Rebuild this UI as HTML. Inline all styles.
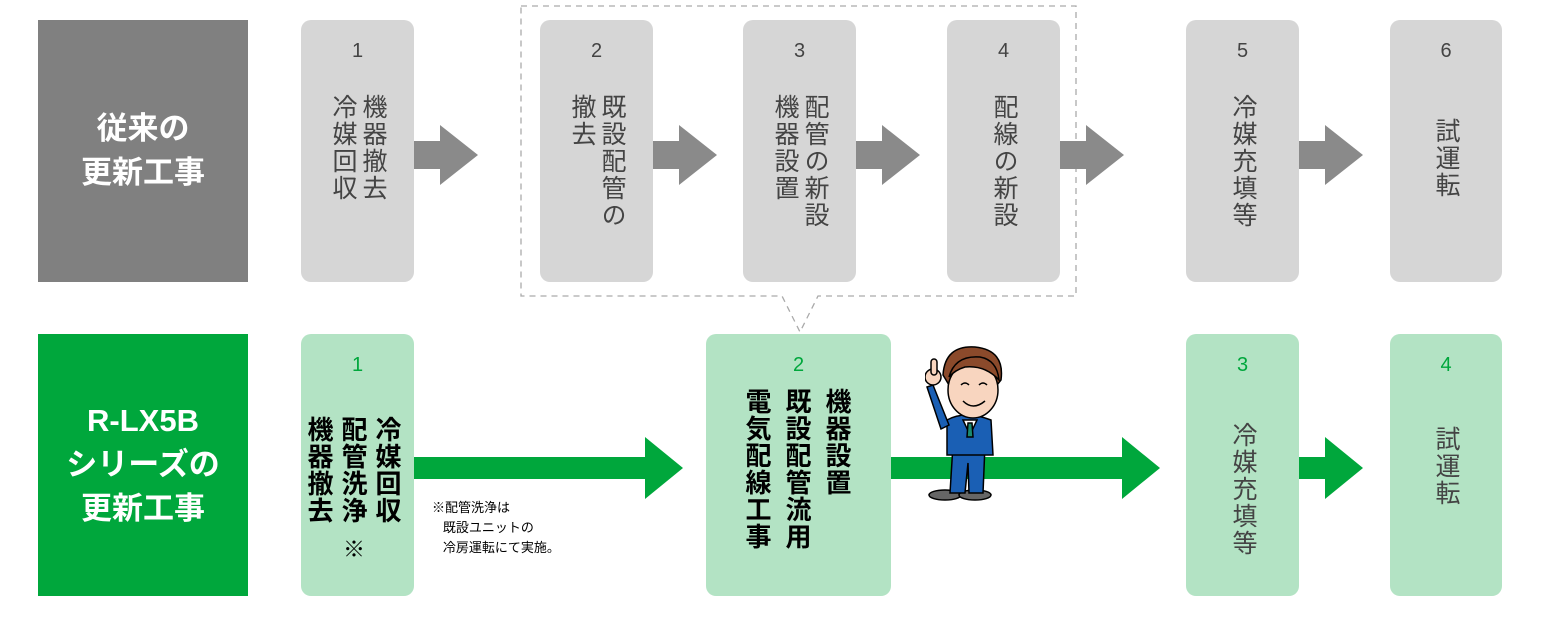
<!DOCTYPE html>
<html><head><meta charset="utf-8"><style>
body{margin:0;width:1550px;height:621px;background:#fff;position:relative;overflow:hidden;font-family:"Liberation Sans","Noto Sans CJK JP",sans-serif}
.a{position:absolute}
.lab{position:absolute;color:#fff;font-weight:bold;font-size:31px;line-height:44px;text-align:center;display:flex;align-items:center;justify-content:center}
.box{position:absolute;border-radius:10px}
.g{background:#d6d6d6}
.gr{background:#b3e3c4}
.num{position:absolute;left:0;right:0;text-align:center;font-size:20px}
.v{position:absolute;writing-mode:vertical-rl;font-size:25px;line-height:30px;letter-spacing:2px;color:#444}
.b{color:#000;font-weight:bold;font-size:26px;letter-spacing:1px}
</style></head><body>
<div class="lab" style="left:38px;top:20px;width:210px;height:262px;background:#808080">従来の<br>更新工事</div>
<div class="lab" style="left:38px;top:334px;width:210px;height:262px;background:#00a73c">R-LX5B<br>シリーズの<br>更新工事</div>

<svg class="a" style="left:0;top:0" width="1550" height="621">
<g fill="none" stroke="#aaa" stroke-width="1.3" stroke-dasharray="6,5">
<path d="M521 6 H1076 V296 H818 L800 332 L782 296 H521 Z"/>
</g>
<g fill="#8a8a8a">
<path d="M414 141h26v-16l38 30-38 30v-16h-26z"/>
<path d="M653 141h26v-16l38 30-38 30v-16h-26z"/>
<path d="M856 141h26v-16l38 30-38 30v-16h-26z"/>
<path d="M1060 141h26v-16l38 30-38 30v-16h-26z"/>
<path d="M1299 141h26v-16l38 30-38 30v-16h-26z"/>
</g>
<g fill="#00a73c">
<path d="M414 457h231v-20l38 31-38 31v-20h-231z"/>
<path d="M891 457h231v-20l38 31-38 31v-20h-231z"/>
<path d="M1299 457h26v-20l38 31-38 31v-20h-26z"/>
</g>
</svg>

<div class="box g" style="left:301px;top:20px;width:113px;height:262px"><div class="num" style="top:20px;color:#444">1</div><div class="v" style="right:26px;top:74px">機器撤去<br>冷媒回収</div></div>
<div class="box g" style="left:540px;top:20px;width:113px;height:262px"><div class="num" style="top:20px;color:#444">2</div><div class="v" style="right:26px;top:74px">既設配管の<br>撤去</div></div>
<div class="box g" style="left:743px;top:20px;width:113px;height:262px"><div class="num" style="top:20px;color:#444">3</div><div class="v" style="right:26px;top:74px">配管の新設<br>機器設置</div></div>
<div class="box g" style="left:947px;top:20px;width:113px;height:262px"><div class="num" style="top:20px;color:#444">4</div><div class="v" style="right:41px;top:74px">配線の新設</div></div>
<div class="box g" style="left:1186px;top:20px;width:113px;height:262px"><div class="num" style="top:20px;color:#444">5</div><div class="v" style="right:41px;top:74px">冷媒充填等</div></div>
<div class="box g" style="left:1390px;top:20px;width:112px;height:262px"><div class="num" style="top:20px;color:#444">6</div><div class="v" style="right:41px;top:98px">試運転</div></div>

<div class="box gr" style="left:301px;top:334px;width:113px;height:262px"><div class="num" style="top:20px;color:#00a73c">1</div><div class="v b" style="right:10px;top:82px;line-height:34px">冷媒回収<br>配管洗浄<br>機器撤去</div><div class="a" style="left:42px;top:198px;font-size:22px;color:#000">※</div></div>
<div class="box gr" style="left:706px;top:334px;width:185px;height:262px"><div class="num" style="top:20px;color:#00a73c">2</div><div class="v b" style="right:34px;top:54px;line-height:40px">機器設置<br>既設配管流用<br>電気配線工事</div></div>
<div class="box gr" style="left:1186px;top:334px;width:113px;height:262px"><div class="num" style="top:20px;color:#00a73c">3</div><div class="v" style="right:41px;top:88px">冷媒充填等</div></div>
<div class="box gr" style="left:1390px;top:334px;width:112px;height:262px"><div class="num" style="top:20px;color:#00a73c">4</div><div class="v" style="right:41px;top:92px">試運転</div></div>

<div class="a" style="left:432px;top:498px;font-size:13px;line-height:20px;color:#000">※配管洗浄は<br>&nbsp;&nbsp;&nbsp;既設ユニットの<br>&nbsp;&nbsp;&nbsp;冷房運転にて実施。</div>

<svg class="a" style="left:925px;top:345px" width="100" height="160" viewBox="0 0 100 160">
<g stroke="#000" stroke-width="1.5">
<ellipse cx="20" cy="150" rx="16" ry="5" fill="#666"/>
<ellipse cx="50" cy="150" rx="16" ry="5" fill="#666"/>
<path d="M28 100 L60 100 L58 148 L44 148 L43 118 L40 148 L25 148 Z" fill="#1a5fb4"/>
<path d="M22 75 Q40 65 66 75 L68 110 L22 110 Z" fill="#1a5fb4"/>
<path d="M24 80 L8 40 L2 42 L16 84 Z" fill="#1a5fb4"/>
<circle cx="8" cy="32" r="8" fill="#f8d5bf"/>
<rect x="6" y="14" width="6" height="16" rx="3" fill="#f8d5bf"/>
<path d="M38 75 L45 90 L52 75 Z" fill="#fff"/>
<path d="M43 78 L47 78 L48 92 L42 92 Z" fill="#1a8a70"/>
<path d="M18 30 Q20 0 50 2 Q80 5 76 35 L72 40 Q70 20 50 18 Q30 20 24 40 Z" fill="#8b4a2b"/>
<ellipse cx="48" cy="45" rx="25" ry="28" fill="#f8d5bf"/>
<path d="M24 32 Q30 10 55 12 Q72 15 74 35 Q60 20 40 22 Q30 25 24 32Z" fill="#8b4a2b"/>
<path d="M36 40 q4 -4 8 0 M54 40 q4 -4 8 0 M38 56 q10 10 22 0" fill="none"/>
</g>
</svg>
</body></html>
